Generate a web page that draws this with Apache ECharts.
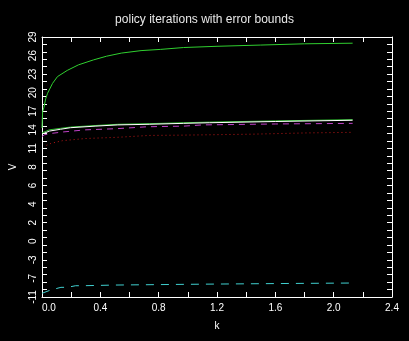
<!DOCTYPE html>
<html>
<head>
<meta charset="utf-8">
<script src="https://cdn.jsdelivr.net/npm/echarts@6/dist/echarts.min.js"></script>
<style>
html,body{margin:0;padding:0;background:#000;}
#c{width:409px;height:341px;}
</style>
</head>
<body>
<div id="c"></div>
<script>
// ---- data ----
const titleText = "policy iterations with error bounds";
const xTickLabels = ["0.0","0.4","0.8","1.2","1.6","2.0","2.4"];
const yTickValues = [29,26,23,20,17,14,11,8,5,2,-1,-4,-7,-10,-13];
const yTickLabels = ["29","26","23","20","17","14","11","8","6","4","2","0","-3","-7","-11"];

// upper bound (green, top)
const kUpper = [0.0, 0.004, 0.013, 0.025, 0.038, 0.072, 0.106, 0.173, 0.25, 0.353, 0.443, 0.544, 0.679, 0.814, 0.971, 1.2, 1.5, 1.8, 2.13];
const vUpper = [14.3, 16.9, 17.6, 19.0, 19.9, 21.5, 22.6, 23.6, 24.5, 25.3, 25.9, 26.4, 26.8, 27.0, 27.3, 27.5, 27.7, 27.9, 28.0];

// policy value (white)
const kValue = [0.0, 0.005, 0.05, 0.128, 0.196, 0.364, 0.52, 0.735, 0.971, 1.15, 1.16, 1.6, 1.61, 2.13];
const vValue = [13.3, 13.45, 13.8, 14.1, 14.35, 14.6, 14.8, 14.9, 15.05, 15.15, 15.3, 15.35, 15.5, 15.55];

// green, close to white
const kGreen2 = [0.0, 0.005, 0.05, 0.128, 0.196, 0.364, 0.52, 0.735, 0.971, 1.15, 1.16, 1.6, 1.61, 2.13];
const vGreen2 = [13.5, 13.7, 14.0, 14.25, 14.45, 14.7, 14.9, 15.0, 15.15, 15.25, 15.35, 15.45, 15.6, 15.65];

// magenta dashed
const kMagenta = [0.0, 0.016, 0.072, 0.14, 0.297, 0.52, 0.72, 0.97, 1.1, 1.6, 2.13];
const vMagenta = [12.9, 13.2, 13.45, 13.65, 14.0, 14.2, 14.5, 14.6, 14.8, 14.95, 15.05];

// red dotted (lower)
const kRed = [0.03, 0.06, 0.14, 0.297, 0.52, 0.735, 0.97, 1.44, 1.8, 2.13];
const vRed = [11.5, 11.8, 12.25, 12.6, 12.8, 13.1, 13.15, 13.3, 13.5, 13.6];

// cyan dashed (bottom)
const kCyan = [0.0, 0.06, 0.13, 0.175, 0.23, 0.28, 0.5, 1.0, 1.5, 2.13];
const vCyan = [-12.4, -11.87, -11.44, -11.44, -11.18, -11.18, -11.07, -10.95, -10.85, -10.74];

function pairs(xs, ys){ return xs.map((x,i)=>[x, ys[i]]); }

// evenly spaced y ticks (axis decoration)
const yTicks = [];
for (let i = 0; i <= 35; i++) yTicks.push(-13 + i*1.2);

const font = "Liberation Sans";
const white = "#ffffff";

const chart = echarts.init(document.getElementById('c'), null, {renderer:'canvas'});

const xBase = {
  type:'value', min:0, max:2.4, interval:0.4,
  splitLine:{show:false},
  axisLine:{onZero:false, lineStyle:{color:white, width:1}},
  axisTick:{inside:true, length:5, lineStyle:{color:white}},
  minorTick:{show:true, splitNumber:2, length:5, lineStyle:{color:white}},
};
const yBase = {
  type:'value', min:-13, max:29,
  splitLine:{show:false},
  axisLine:{show:true, onZero:false, lineStyle:{color:white, width:1}},
  axisTick:{show:true, inside:true, length:5, customValues: yTicks, lineStyle:{color:white}},
};

chart.setOption({
  backgroundColor:'#000000',
  animation:false,
  title:{
    text:titleText, left:'center', top:9,
    textStyle:{color:'#e8e8e8', fontSize:12, fontWeight:'normal', fontFamily:font}
  },
  grid:{left:36, right:17, top:37, bottom:44},
  xAxis:[
    Object.assign({}, xBase, {
      position:'bottom',
      name:'k', nameLocation:'middle', nameGap:24,
      nameTextStyle:{color:white, fontSize:10, fontFamily:font},
      axisLabel:{color:white, fontSize:10, fontFamily:font, margin:6, alignMinLabel:'left',
        formatter:(v)=>{ const i = Math.round(v/0.4); return xTickLabels[i] !== undefined ? xTickLabels[i] : ''; }}
    }),
    Object.assign({}, xBase, {position:'top', axisLabel:{show:false}})
  ],
  yAxis:[
    Object.assign({}, yBase, {
      position:'left',
      name:'V', nameLocation:'middle', nameGap:24, nameRotate:90,
      nameTextStyle:{color:white, fontSize:10, fontFamily:font},
      axisLabel:{color:white, fontSize:10, fontFamily:font, rotate:90, margin:4,
        customValues: yTickValues,
        formatter:(v)=>{ const i = yTickValues.findIndex(t=>Math.abs(t-v)<1e-6); return i>=0 ? yTickLabels[i] : ''; }}
    }),
    Object.assign({}, yBase, {position:'right', axisLabel:{show:false}})
  ],
  series:[
    {type:'line', name:'lower', data:pairs(kRed,vRed), showSymbol:false, z:2,
      lineStyle:{color:'#c01818', width:1, type:[1,3]}},
    {type:'line', name:'magenta', data:pairs(kMagenta,vMagenta), showSymbol:false, z:3,
      lineStyle:{color:'#c040c8', width:1, type:[6,5]}},
    {type:'line', name:'cyan', data:pairs(kCyan,vCyan), showSymbol:false, z:3,
      lineStyle:{color:'#40d0d0', width:1, type:[8,7]}},
    {type:'line', name:'green2', data:pairs(kGreen2,vGreen2), showSymbol:false, z:4,
      lineStyle:{color:'#30c030', width:1}},
    {type:'line', name:'value', data:pairs(kValue,vValue), showSymbol:false, z:5,
      lineStyle:{color:'#ffffff', width:1}},
    {type:'line', name:'upper', data:pairs(kUpper,vUpper), showSymbol:false, z:6,
      lineStyle:{color:'#30d030', width:1}}
  ]
});
</script>
</body>
</html>
